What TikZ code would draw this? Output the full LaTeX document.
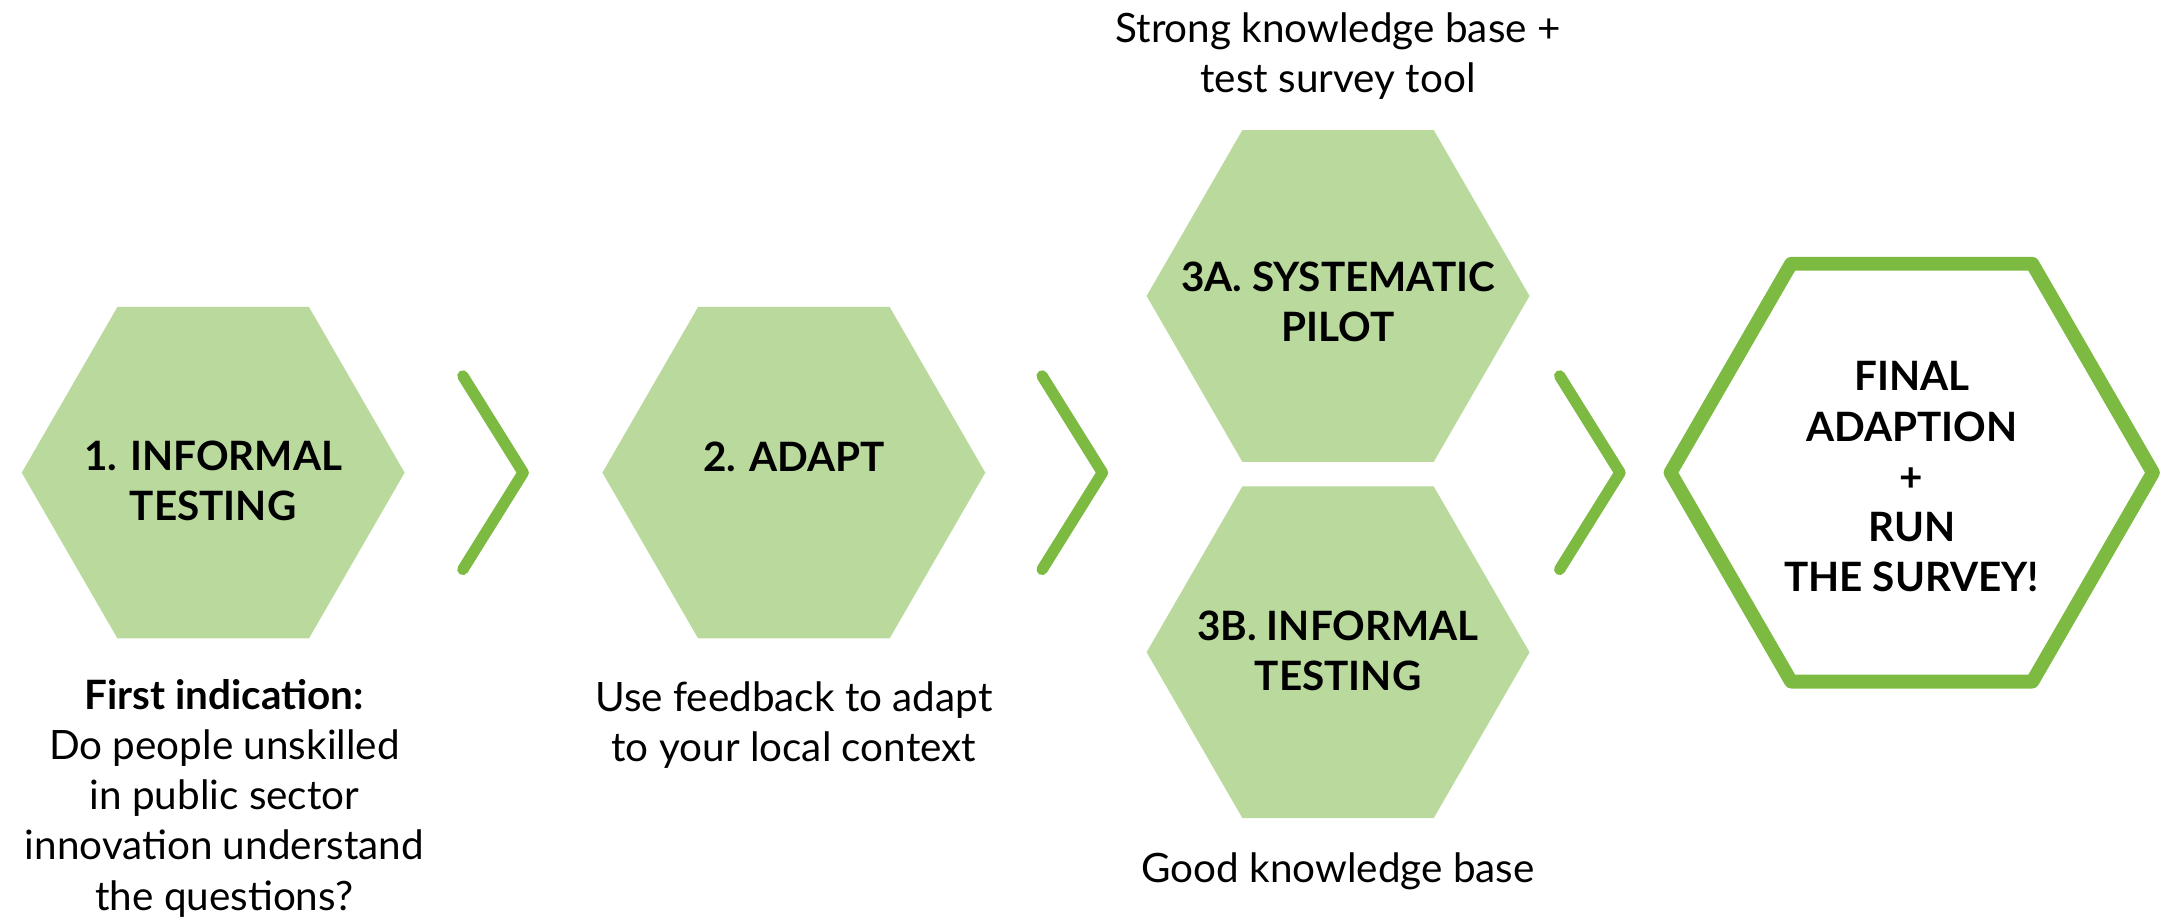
\documentclass[tikz,border=0pt]{standalone}
\usepackage{fontspec}
\setmainfont{Lato}
\usetikzlibrary{positioning}
\definecolor{hexfill}{HTML}{B9D99D}
\definecolor{hexline}{HTML}{7DBA42}
\tikzset{
  caption/.style={align=center, font=\fontsize{8.2}{10.2}\selectfont},
  title/.style={align=center, font=\fontsize{8.2}{10.2}\selectfont\bfseries},
  chev/.style={hexline, line width=2.3pt, line cap=round, line join=round}
}
\newcommand{\hexpath}[1]{% half width
  ++(-#1,0) -- ++(#1/2,-#1*0.866) -- ++(#1,0) -- ++(#1/2,#1*0.866)
  -- ++(-#1/2,#1*0.866) -- ++(-#1,0) -- cycle}

\begin{document}
\begin{tikzpicture}[x=0.01cm, y=-0.01cm]
      \useasboundingbox (0,0) rectangle (1550,657);

      % hexagons
      \fill[hexfill] (152,337) \hexpath{136.5};
      \fill[hexfill] (566,337) \hexpath{136.5};
      \fill[hexfill] (954,211) \hexpath{136.5};
      \fill[hexfill] (954,465) \hexpath{136.5};
      \draw[hexline, line width=2.8pt, line join=round] (1363,337) \hexpath{172};

      \node[title] (informal) at (152,343) {1. INFORMAL\\TESTING};
      \node[title] (adapt) at (566,326) {2. ADAPT};
      \node[title] (pilot) at (954,215) {3A. SYSTEMATIC\\PILOT};
      \node[title] (testing) at (954,464) {3B. INFORMAL\\TESTING};
      \node[title] (final) at (1363,340) {FINAL\\ADAPTION\\+\\RUN\\THE SURVEY!};

      % chevrons
      \coordinate (c1) at (373,337);
      \coordinate (c2) at (786,337);
      \coordinate (c3) at (1155,337);
      \foreach \c in {c1,c2,c3}
        \draw[chev] (\c) ++(-43,-69) -- (\c) -- ++(-43,69);

      % captions
      \node[caption] (first) at (160,569) {\textbf{First indication:}\\Do people unskilled\\in public sector\\innovation understand\\the questions?};
      \node[caption] (feedback) at (566,517) {Use feedback to adapt\\to your local context};
      \node[caption] (strong) at (954,40) {Strong knowledge base +\\test survey tool};
      \node[caption] (good) at (954,621) {Good knowledge base};
\end{tikzpicture}
\end{document}
